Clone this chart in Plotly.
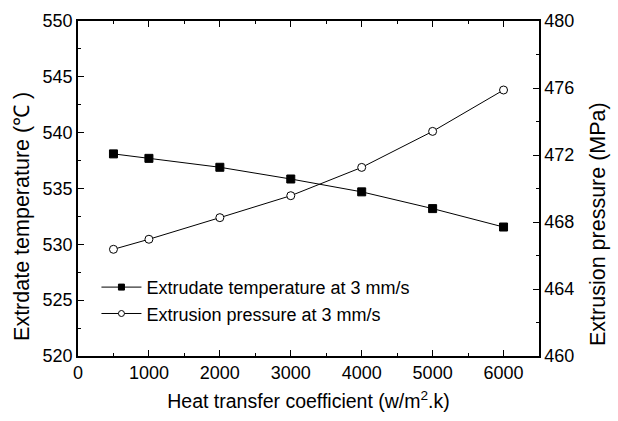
import plotly.graph_objects as go

htc = [500, 1000, 2000, 3000, 4000, 5000, 6000]
temperature = [538.1, 537.7, 536.9, 535.85, 534.7, 533.2, 531.55]
pressure = [466.37, 466.97, 468.26, 469.57, 471.26, 473.41, 475.88]
names = ["Extrudate temperature at 3 mm/s", "Extrusion pressure at 3 mm/s"]
x_title = "Heat transfer coefficient (w/m<sup>2</sup>.k)"
y_title = "Extrdate temperature (℃ )"
y2_title = "Extrusion pressure (MPa)"

FONT = "Liberation Sans, Arial, sans-serif"

fig = go.Figure()
fig.add_trace(go.Scatter(
    x=htc, y=temperature, mode="lines+markers", showlegend=False,
    line=dict(color="black", width=1),
    marker=dict(symbol="square", size=8, color="black", line=dict(color="black", width=1)),
    yaxis="y"))
fig.add_trace(go.Scatter(
    x=htc, y=pressure, mode="lines+markers", showlegend=False,
    line=dict(color="black", width=1),
    marker=dict(symbol="circle", size=8, color="white", line=dict(color="black", width=1)),
    yaxis="y2"))
# legend entries (smaller symbols as in the reference)
fig.add_trace(go.Scatter(
    x=[None], y=[None], mode="lines+markers", name=names[0],
    line=dict(color="black", width=1),
    marker=dict(symbol="square", size=6, color="black", line=dict(color="black", width=1))))
fig.add_trace(go.Scatter(
    x=[None], y=[None], mode="lines+markers", name=names[1],
    line=dict(color="black", width=1),
    marker=dict(symbol="circle", size=6, color="white", line=dict(color="black", width=1))))

axcommon = dict(showline=True, linecolor="black", linewidth=1.5, ticks="inside",
                ticklen=6, tickwidth=1.2, tickcolor="black", showgrid=False, zeroline=False,
                tickfont=dict(family=FONT, size=18, color="black"))

fig.update_layout(
    width=618, height=421,
    margin=dict(l=78, r=79, t=21, b=65),
    plot_bgcolor="white", paper_bgcolor="white",
    font=dict(family=FONT, size=18, color="black"),
    xaxis=dict(range=[0, 6500], tickvals=[0, 1000, 2000, 3000, 4000, 5000, 6000],
               mirror="ticks",
               minor=dict(dtick=500, tick0=0, ticks="inside", ticklen=3, tickcolor="black"),
               title=dict(text=x_title, standoff=12, font=dict(family=FONT, size=19.5)),
               **axcommon),
    yaxis=dict(range=[520, 550], dtick=5,
               minor=dict(dtick=2.5, ticks="inside", ticklen=3, tickcolor="black"),
               **axcommon),
    yaxis2=dict(range=[460, 480], dtick=4, overlaying="y", side="right",
                minor=dict(dtick=2, ticks="inside", ticklen=3, tickcolor="black"),
                **axcommon),
    legend=dict(x=0.04, y=0.26, xanchor="left", yanchor="top",
                bgcolor="rgba(0,0,0,0)", font=dict(family=FONT, size=18),
                tracegroupgap=0, itemsizing="trace", itemwidth=40),
    showlegend=True,
    annotations=[
        dict(text=y_title, xref="paper", yref="paper", x=-0.1215, y=0.418,
             xanchor="center", yanchor="middle", textangle=-90, showarrow=False,
             font=dict(family=FONT, size=21.5, color="black")),
        dict(text=y2_title, xref="paper", yref="paper", x=1.128, y=0.394,
             xanchor="center", yanchor="middle", textangle=-90, showarrow=False,
             font=dict(family=FONT, size=21.5, color="black")),
    ],
)

fig.write_html("out.html")
